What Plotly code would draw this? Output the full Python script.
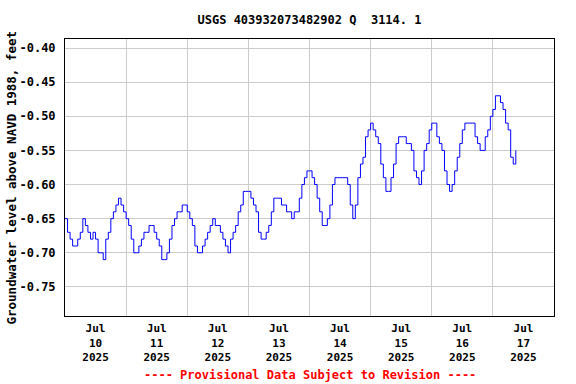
import pandas as pd
import plotly.graph_objects as go

# Hourly groundwater level readings (feet above NAVD 1988), starting 2025-07-10 00:00
start_time = "2025-07-10 00:00"
levels = [
    # Jul 10
    -0.65, -0.67, -0.68, -0.69, -0.69, -0.68, -0.67, -0.65, -0.66, -0.67, -0.68, -0.67,
    -0.68, -0.70, -0.70, -0.71, -0.68, -0.67, -0.65, -0.64, -0.63, -0.62, -0.63, -0.64,
    # Jul 11
    -0.65, -0.66, -0.68, -0.70, -0.70, -0.69, -0.68, -0.67, -0.67, -0.66, -0.66, -0.67,
    -0.68, -0.69, -0.71, -0.71, -0.70, -0.68, -0.66, -0.65, -0.64, -0.64, -0.63, -0.63,
    # Jul 12
    -0.64, -0.65, -0.66, -0.69, -0.70, -0.70, -0.69, -0.68, -0.67, -0.66, -0.65, -0.66,
    -0.66, -0.67, -0.68, -0.69, -0.70, -0.68, -0.67, -0.66, -0.64, -0.63, -0.61, -0.61,
    # Jul 13
    -0.61, -0.62, -0.63, -0.64, -0.67, -0.68, -0.68, -0.67, -0.66, -0.64, -0.62, -0.62,
    -0.62, -0.63, -0.63, -0.64, -0.64, -0.65, -0.64, -0.64, -0.62, -0.60, -0.59, -0.58,
    # Jul 14
    -0.58, -0.59, -0.60, -0.62, -0.64, -0.66, -0.66, -0.65, -0.63, -0.60, -0.59, -0.59,
    -0.59, -0.59, -0.59, -0.60, -0.63, -0.65, -0.63, -0.59, -0.57, -0.56, -0.53, -0.52,
    # Jul 15
    -0.51, -0.52, -0.53, -0.54, -0.57, -0.59, -0.61, -0.61, -0.59, -0.57, -0.54, -0.53,
    -0.53, -0.53, -0.54, -0.54, -0.55, -0.58, -0.59, -0.60, -0.58, -0.55, -0.54, -0.52,
    # Jul 16
    -0.51, -0.51, -0.53, -0.54, -0.55, -0.58, -0.60, -0.61, -0.60, -0.58, -0.56, -0.54,
    -0.52, -0.51, -0.51, -0.51, -0.51, -0.53, -0.54, -0.55, -0.55, -0.53, -0.52, -0.50,
    # Jul 17
    -0.49, -0.47, -0.47, -0.48, -0.49, -0.51, -0.52, -0.56, -0.57, -0.55,
]
times = pd.date_range(start_time, periods=len(levels), freq="h")

x_tick_vals = ["2025-07-%02d 12:00" % d for d in range(10, 18)]
x_tick_text = ["Jul<br>%d<br>2025" % d for d in range(10, 18)]
x_grid_vals = ["2025-07-%02d 00:00" % d for d in range(11, 18)]
x_range = ["2025-07-10 00:00", "2025-07-18 00:00"]

y_tick_vals = [-0.75, -0.70, -0.65, -0.60, -0.55, -0.50, -0.45, -0.40]
y_tick_text = ["-0.75", "-0.70", "-0.65", "-0.60", "-0.55", "-0.50", "-0.45", "-0.40"]
y_range = [-0.7926, -0.3868]

title_text = "USGS 403932073482902 Q  3114. 1"
y_title = "Groundwater level above NAVD 1988, feet"
footer = "---- Provisional Data Subject to Revision ----"

FONT = "DejaVu Sans Mono"

fig = go.Figure()
fig.add_trace(go.Scatter(
    x=times, y=levels, mode="lines", line=dict(color="#0000ff", width=1, shape="hv"),
    showlegend=False, hoverinfo="skip",
))

fig.update_layout(
    width=576, height=384,
    margin=dict(l=65, r=576 - 554, t=39, b=384 - 316, autoexpand=False),
    paper_bgcolor="white", plot_bgcolor="white",
    font=dict(family=FONT, size=12, color="black", weight="bold"),
    title=dict(text=title_text, x=0.5, xref="paper", xanchor="center",
               y=1 - 20 / 384, yanchor="middle", yref="container",
               font=dict(family=FONT, size=12, color="black", weight="bold")),
    xaxis=dict(
        type="date", range=x_range, automargin=False,
        tickmode="array", tickvals=x_tick_vals, ticktext=x_tick_text,
        showgrid=False, ticks="", zeroline=False, ticklabelstandoff=2,
        showline=True, mirror=True, linecolor="black", linewidth=1,
        tickfont=dict(family=FONT, size=11, color="black", weight="bold"),
        minor=dict(tickmode="array", tickvals=x_grid_vals, showgrid=True,
                   gridcolor="#cccccc", gridwidth=1, ticks=""),
    ),
    yaxis=dict(
        range=y_range, tickmode="array", tickvals=y_tick_vals, ticktext=y_tick_text,
        showgrid=True, gridcolor="#cccccc", gridwidth=1, ticks="", zeroline=False,
        automargin=False, ticklabelstandoff=6,
        showline=True, mirror=True, linecolor="black", linewidth=1,
        tickfont=dict(family=FONT, size=12, color="black", weight="bold"),
    ),
    annotations=[
        dict(text=y_title, xref="paper", yref="paper", x=0, y=0.5,
             xshift=-54, textangle=-90, showarrow=False, xanchor="center", yanchor="middle",
             font=dict(family=FONT, size=12.5, color="black", weight="bold")),
        dict(text=footer, xref="paper", yref="paper", x=0.5, y=0,
             yshift=-59, showarrow=False, xanchor="center", yanchor="middle",
             font=dict(family=FONT, size=12, color="#ff0000", weight="bold")),
    ],
)

fig.write_html("out.html", config={"displayModeBar": False},
               post_script="document.body.style.margin='0px';")
